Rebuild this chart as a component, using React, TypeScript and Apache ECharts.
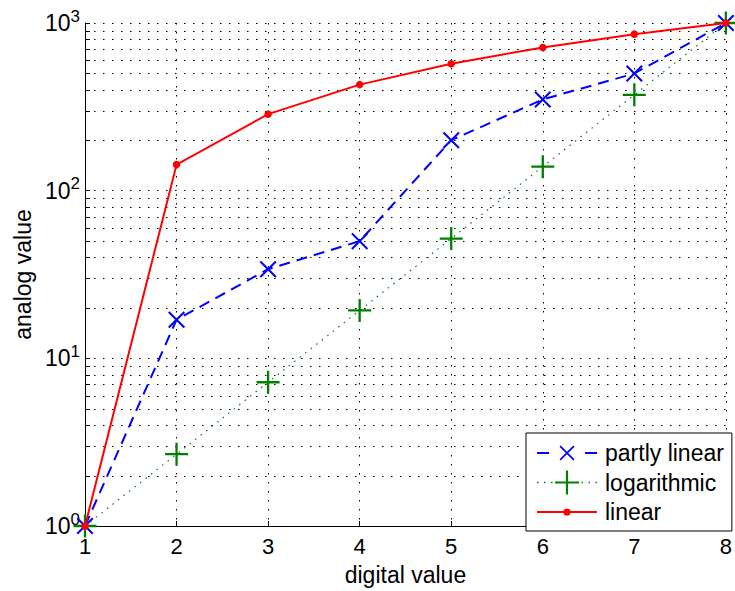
import React, { useEffect, useRef } from "react";
import * as echarts from "echarts";

const digitalValues = [1, 2, 3, 4, 5, 6, 7, 8];
const partlyLinear = [1, 17, 34, 50, 200, 350, 500, 1000];
const logarithmic = [1, 2.68, 7.2, 19.3, 51.8, 139, 373, 1000];
const linear = [1, 143, 286, 429, 572, 715, 858, 1000];
const minorValues = [2, 3, 4, 5, 6, 7, 8, 9, 20, 30, 40, 50, 60, 70, 80, 90, 200, 300, 400, 500, 600, 700, 800, 900];
const seriesNames = ["partly linear", "logarithmic", "linear"];

const FONT = "'Liberation Sans', Arial, Helvetica, sans-serif";
const DOTS: number[] = [1.5, 7.5];

const X_SYMBOL = "path://M0,0.85L0.85,0L10,9.15L9.15,10Z M9.15,0L10,0.85L0.85,10L0,9.15Z";
const PLUS_SYMBOL = "path://M4.5,0H5.5V4.5H10V5.5H5.5V10H4.5V5.5H0V4.5H4.5Z";

const ICON_PARTLY =
  "path://M0,0M60,24M0,11H12V13H0Z M48,11H60V13H48Z M22.5,5.7L23.7,4.5L37.5,18.3L36.3,19.5Z M36.3,4.5L37.5,5.7L23.7,19.5L22.5,18.3Z";
const ICON_LOG =
  "path://M0,0M60,24M0,11.25H1.5V12.75H0Z M7,11.25H8.5V12.75H7Z M14,11.25H15.5V12.75H14Z M44.5,11.25H46V12.75H44.5Z M51.5,11.25H53V12.75H51.5Z M58.5,11.25H60V12.75H58.5Z M28.9,0H31.1V10.9H42V13.1H31.1V24H28.9V13.1H18V10.9H28.9Z";
const ICON_LINEAR =
  "path://M0,0M60,24M0,11H60V13H0Z M33.6,12A3.6,3.6 0 1 1 26.4,12A3.6,3.6 0 1 1 33.6,12Z";

function pairs(vals: number[]) {
  return digitalValues.map((x, i) => [x, vals[i]]);
}

export default function App() {
  const ref = useRef<HTMLDivElement>(null);
  useEffect(() => {
    document.body.style.margin = "0";
    if (!ref.current) return;
    const chart = echarts.init(ref.current, null, { renderer: "svg" });
    const xMin = digitalValues[0];
    const xMax = digitalValues[digitalValues.length - 1];
    const option: any = {
      animation: false,
      backgroundColor: "#fff",
      grid: { left: 85, right: 6, top: 23, bottom: 61 },
      legend: {
        left: 526,
        top: 433,
        orient: "vertical",
        selectedMode: false,
        backgroundColor: "#fff",
        borderColor: "#000",
        borderWidth: 1,
        borderRadius: 0,
        padding: [8, 8, 7, 11],
        itemWidth: 60,
        itemHeight: 24,
        itemGap: 5.5,
        itemStyle: { borderWidth: 0 },
        textStyle: { fontSize: 23, color: "#000", fontFamily: FONT, padding: [0, 0, 0, 3] },
        data: [
          { name: seriesNames[0], icon: ICON_PARTLY },
          { name: seriesNames[1], icon: ICON_LOG },
          { name: seriesNames[2], icon: ICON_LINEAR },
        ],
      },
      xAxis: {
        type: "value",
        min: xMin,
        max: xMax,
        interval: 1,
        name: "digital value",
        nameLocation: "middle",
        nameGap: 37,
        nameTextStyle: { fontSize: 23, color: "#000", fontFamily: FONT },
        axisLine: { onZero: false, lineStyle: { color: "#000", width: 1 } },
        axisTick: { inside: true, length: 5, lineStyle: { color: "#000" } },
        axisLabel: { fontSize: 22, color: "#000", fontFamily: FONT, margin: 9 },
        splitLine: { show: true, lineStyle: { color: "#000", width: 1, type: DOTS } },
      },
      yAxis: {
        type: "log",
        logBase: 10,
        min: 1,
        max: 1000,
        name: "analog value",
        nameLocation: "middle",
        nameGap: 50,
        nameTextStyle: { fontSize: 23, color: "#000", fontFamily: FONT },
        axisLine: { onZero: false, lineStyle: { color: "#000", width: 1 } },
        axisTick: { inside: true, length: 5, lineStyle: { color: "#000" } },
        axisLabel: {
          margin: 5,
          formatter: (v: number) => `{b|10}{s|${Math.round(Math.log10(v))}}`,
          rich: {
            b: { fontSize: 23, color: "#000", fontFamily: FONT },
            s: { fontSize: 17, color: "#000", fontFamily: FONT, padding: [0, 0, 14, 0] },
          },
        },
        splitLine: { show: true, lineStyle: { color: "#000", width: 1, type: DOTS } },
      },
      series: [
        {
          type: "custom",
          name: "minor",
          silent: true,
          z: 1,
          data: minorValues.map((v) => [xMin, v]),
          encode: { x: 0, y: 1 },
          renderItem: (params: any, api: any) => {
            const v = api.value(1);
            const p0 = api.coord([xMin, v]);
            const p1 = api.coord([xMax, v]);
            const y = Math.round(p0[1]) + 0.5;
            return {
              type: "group",
              children: [
                {
                  type: "line",
                  shape: { x1: p0[0], y1: y, x2: p1[0], y2: y },
                  style: { stroke: "#000", lineWidth: 1, lineDash: DOTS },
                },
                {
                  type: "line",
                  shape: { x1: p0[0], y1: y, x2: p0[0] + 5, y2: y },
                  style: { stroke: "#000", lineWidth: 1 },
                },
              ],
            };
          },
        },
        {
          type: "line",
          name: seriesNames[0],
          z: 3,
          silent: true,
          data: pairs(partlyLinear),
          symbol: X_SYMBOL,
          symbolSize: 17,
          itemStyle: { color: "#0000ff", borderWidth: 0 },
          lineStyle: { color: "#0000ff", width: 2, type: [11, 7] },
        },
        {
          type: "line",
          name: seriesNames[1],
          z: 4,
          silent: true,
          data: pairs(logarithmic),
          symbol: PLUS_SYMBOL,
          symbolSize: 23,
          itemStyle: { color: "#008000", borderWidth: 0 },
          lineStyle: { color: "#008000", width: 1.2, type: [1.5, 5.5] },
        },
        {
          type: "line",
          name: seriesNames[2],
          z: 5,
          silent: true,
          data: pairs(linear),
          symbol: "circle",
          symbolSize: 7.5,
          itemStyle: { color: "#ff0000", borderWidth: 0 },
          lineStyle: { color: "#ff0000", width: 2 },
        },
      ],
    };
    chart.setOption(option);
    return () => chart.dispose();
  }, []);
  return (
    <div
      ref={ref}
      style={{ position: "absolute", left: 0, top: 0, width: 735, height: 591, background: "#fff" }}
    />
  );
}
